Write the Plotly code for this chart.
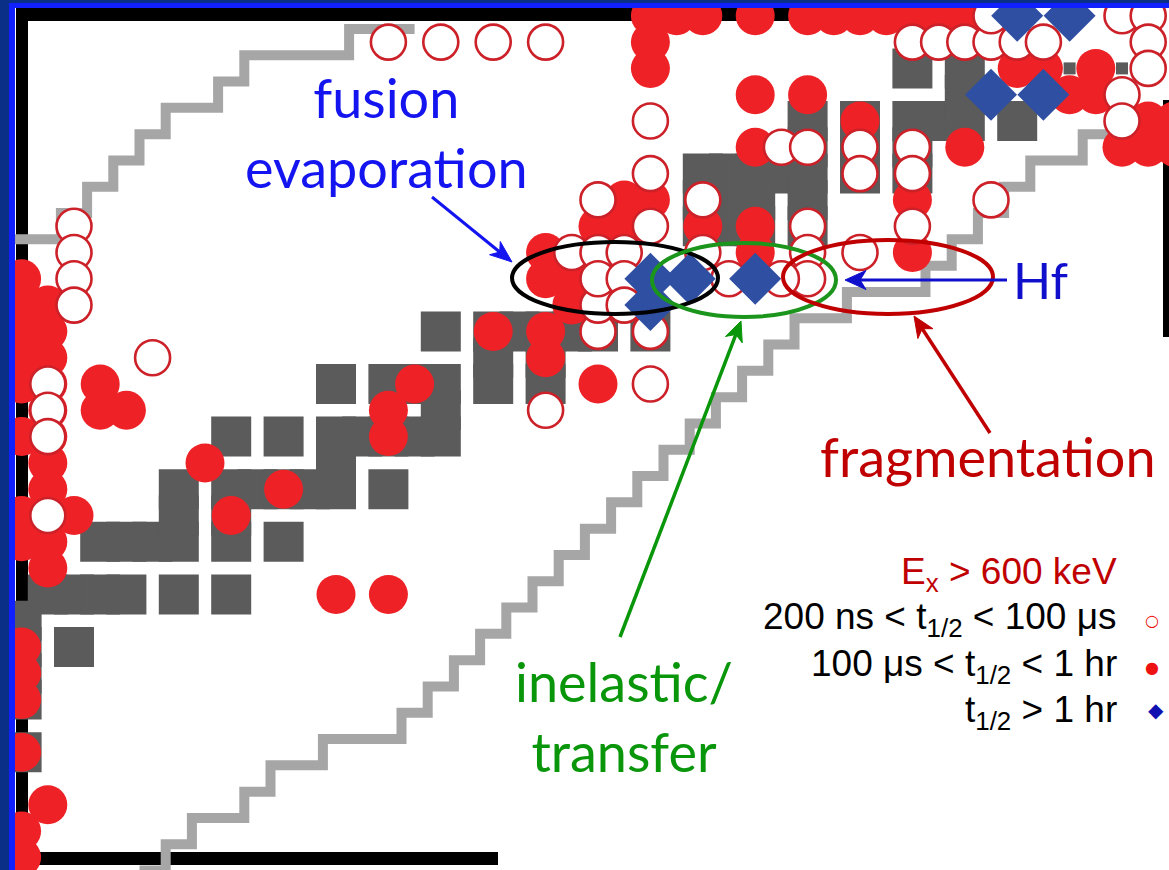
import math
import plotly.graph_objects as go

W, H = 1169, 870
# pixel geometry of the nuclide grid (one cell = one nucleus)
X0_PX, Y0_PX, DX, DY = 74.0, 647.0, 26.2, 26.3


def gx(p):
    return (p - X0_PX) / DX


def gy(p):
    return (Y0_PX - p) / DY


# ---------------- data (relative neutron / proton index) ----------------
stable_n = [0, -1, 0, 1, 2, 4, 6, 1, 2, 3, 4, 4, 4, 6, 6, 6, 8, 7, 8, 9, 10, 10, 10,
            6, 8, 11, 12, 10, 12, 12, -2, -2, -2, -2, -2,
            13, 14, 14, 13, 14, 14, 16, 17, 18, 19, 20, 16, 16, 18, 18, 22,
            24, 24, 24, 25, 26, 27, 28, 25, 26, 25, 26, 28, 28, 28, 28,
            30, 30, 30, 32, 32, 32, 33, 34, 32, 34, 34, 36]
stable_z = [0, 2, 2, 2, 2, 2, 2, 4, 4, 4, 4, 5, 6, 4, 5, 6, 4, 6, 6, 6, 6, 7, 8,
            8, 8, 8, 8, 10, 10, 6, 1, 0, -1, -2, -4,
            10, 10, 9, 8, 8, 12, 12, 12, 12, 12, 12, 11, 10, 11, 10, 12,
            18, 17, 16, 18, 18, 18, 18, 17, 17, 16, 16, 17, 16, 19, 20,
            18, 19, 20, 18, 19, 20, 20, 20, 22, 21, 22, 20]

primordial_n = [38, 40]
primordial_z = [22, 22]

# 200 ns < t1/2 < 100 us  (open circles)
short_n = [0, 0, 0, 0, -1, -1, -1, -1, 3, 12, 14, 16, 18,
           18, 22, 20, 20, 22,
           22, 22, 22, 20, 24, 24,
           19, 20, 21, 20, 21, 21,
           27, 28, 28, 28, 28, 27, 25,
           30, 30, 30, 32, 32, 32, 35,
           32, 33, 34, 35, 36, 37,
           35, 40, 41, 41, 41, 40, 40]
short_z = [16, 15, 14, 13, 10, 9, 8, 5, 11, 23, 23, 23, 23,
           9, 10, 12, 13, 12,
           20, 18, 16, 17, 17, 15,
           15, 15, 15, 14, 14, 13,
           19, 19, 16, 15, 14, 14, 14,
           19, 18, 15, 19, 18, 16, 17,
           23, 23, 23, 23, 23, 23,
           24, 24, 24, 23, 22, 21, 20]

# 100 us < t1/2 < 1 hr  (filled circles)
mid_n = [-2, -2, -2, -2, -2, -2, -2, -2, -2, -2, -2, -2, -2, -2,
         -1, -1, -1, -1, -1, -1, -1, -1, -1, -1, -1, -1,
         0, 1, 1, 2, 5, 8, 6, 10, 12, 12, 12, 13,
         16, 18, 18, 20,
         18, 18, 19, 19, 21, 21, 20, 22,
         22, 22, 22, 23, 24, 26, 28, 29, 30, 31, 32, 33, 34,
         26, 28, 26, 26, 26, 24,
         30, 32, 32, 34,
         37, 39, 38, 39, 36,
         41, 41, 42, 42, 40]
mid_z = [14, 13, 12, 11, 10, 8, 5, 4, 0, -1, -2, -4, -7, -8,
         13, 12, 11, 10, 9, 8, 7, 6, 5, 4, 3, -6,
         5, 10, 9, 9, 7, 6, 5, 2, 2, 9, 8, 10,
         12, 12, 11, 10,
         15, 14, 14, 13, 17, 16, 16, 17,
         24, 23, 22, 24, 24, 24, 24, 24, 24, 24, 24, 24, 24,
         21, 21, 19, 16, 15, 16,
         20, 17, 15, 19,
         22, 22, 21, 21, 22,
         20, 19, 19, 20, 19]

# t1/2 > 1 hr  (diamonds)
long_n = [22, 22, 23.5, 26, 35, 37, 36, 38]
long_z = [14, 13, 14, 14, 21, 21, 24, 24]

# drip lines (cell-boundary staircases)
upper_drip_n = [-3, -0.5, -0.5, 0.5, 0.5, 1.5, 1.5, 2.5, 2.5, 3.5, 3.5, 5.5, 5.5,
                6.5, 6.5, 10.5, 10.5, 13]
upper_drip_z = [15.5, 15.5, 16.5, 16.5, 17.5, 17.5, 18.5, 18.5, 19.5, 19.5, 20.5,
                20.5, 21.5, 21.5, 22.5, 22.5, 23.5, 23.5]
lower_drip_n = [2.5, 3.5, 3.5, 4.5, 4.5, 6.5, 6.5, 7.5, 7.5, 9.5, 9.5, 12.5, 12.5,
                13.5, 13.5, 14.5, 14.5, 15.5, 15.5, 16.5, 16.5, 17.5, 17.5, 18.5,
                18.5, 19.5, 19.5, 20.5, 20.5, 21.5, 21.5, 22.5, 22.5, 23.5, 23.5,
                24.5, 24.5, 25.5, 25.5, 26.5, 26.5, 27.5, 27.5, 29.5, 29.5, 32.5,
                32.5, 33.5, 33.5, 34.5, 34.5, 35.5, 35.5, 36.5, 36.5, 38.5, 38.5,
                41.5]
lower_drip_z = [-8.5, -8.5, -7.5, -7.5, -6.5, -6.5, -5.5, -5.5, -4.5, -4.5, -3.5,
                -3.5, -2.5, -2.5, -1.5, -1.5, -0.5, -0.5, 0.5, 0.5, 1.5, 1.5, 2.5,
                2.5, 3.5, 3.5, 4.5, 4.5, 5.5, 5.5, 6.5, 6.5, 7.5, 7.5, 8.5, 8.5,
                9.5, 9.5, 10.5, 10.5, 11.5, 11.5, 12.5, 12.5, 13.5, 13.5, 14.5,
                14.5, 15.5, 15.5, 16.5, 16.5, 17.5, 17.5, 18.5, 18.5, 19.5, 19.5]

legend_labels = ["E<sub>x</sub> > 600 keV",
                 "200 ns < t<sub>1/2</sub> < 100 \u03bcs",
                 "100 \u03bcs < t<sub>1/2</sub> < 1 hr",
                 "t<sub>1/2</sub> > 1 hr"]

# ---------------- figure ----------------
fig = go.Figure()

DRIP = "#a6a6a6"
for n, z in [(upper_drip_n, upper_drip_z), (lower_drip_n, lower_drip_z)]:
    fig.add_trace(go.Scatter(x=n, y=z, mode="lines",
                             line=dict(color=DRIP, width=10), hoverinfo="skip"))

fig.add_trace(go.Scatter(x=stable_n, y=stable_z, mode="markers",
                         marker=dict(symbol="square", size=40, color="#5b5b5b",
                                     line=dict(width=0)), hoverinfo="skip"))
fig.add_trace(go.Scatter(x=primordial_n, y=primordial_z, mode="markers",
                         marker=dict(symbol="square", size=12, color="#5b5b5b",
                                     line=dict(width=0)), hoverinfo="skip"))
fig.add_trace(go.Scatter(x=mid_n, y=mid_z, mode="markers",
                         marker=dict(symbol="circle", size=39, color="#ee2226",
                                     line=dict(width=0)), hoverinfo="skip"))
fig.add_trace(go.Scatter(x=short_n, y=short_z, mode="markers",
                         marker=dict(symbol="circle", size=35, color="white",
                                     line=dict(width=2.6, color="#cc2129")),
                         hoverinfo="skip"))
fig.add_trace(go.Scatter(x=long_n, y=long_z, mode="markers",
                         marker=dict(symbol="diamond", size=40, color="#2f4fa2",
                                     line=dict(width=0)), hoverinfo="skip"))

shapes = []
# black frame lines of the chart
shapes.append(dict(type="line", layer="below", x0=gx(22), x1=gx(22), y0=gy(8), y1=gy(865),
                   line=dict(color="black", width=12)))
shapes.append(dict(type="line", layer="below", x0=gx(16), x1=gx(880), y0=gy(14.5), y1=gy(14.5),
                   line=dict(color="black", width=13)))
shapes.append(dict(type="line", layer="below", x0=gx(16), x1=gx(498), y0=gy(858.5), y1=gy(858.5),
                   line=dict(color="black", width=13)))
shapes.append(dict(type="line", layer="below", x0=gx(1167), x1=gx(1167), y0=gy(100), y1=gy(337),
                   line=dict(color="black", width=8)))


def ellipse(cx, cy, rx, ry, color):
    return dict(type="circle", layer="above", x0=gx(cx - rx), x1=gx(cx + rx),
                y0=gy(cy + ry), y1=gy(cy - ry), line=dict(color=color, width=4))


shapes.append(ellipse(615, 278, 103, 36, "black"))
shapes.append(ellipse(744, 280, 92, 37, "#1b951b"))
shapes.append(ellipse(888, 277, 105, 37, "#c00000"))


def arrow(hx, hy, tx, ty, color, width, hl=21, hw=17):
    """Arrow drawn as a line plus a notched (stealth) head, given in pixels."""
    L = math.hypot(hx - tx, hy - ty)
    ux, uy = (hx - tx) / L, (hy - ty) / L
    vx, vy = -uy, ux
    bx, by = hx - hl * ux, hy - hl * uy
    nx, ny = hx - 0.72 * hl * ux, hy - 0.72 * hl * uy
    shapes.append(dict(type="line", layer="above", x0=gx(tx), y0=gy(ty),
                       x1=gx(nx + 2 * ux), y1=gy(ny + 2 * uy),
                       line=dict(color=color, width=width)))
    pts = [(hx, hy), (bx + hw / 2 * vx, by + hw / 2 * vy), (nx, ny),
           (bx - hw / 2 * vx, by - hw / 2 * vy)]
    path = "M " + " L ".join(f"{gx(px):.4f},{gy(py):.4f}" for px, py in pts) + " Z"
    shapes.append(dict(type="path", layer="above", path=path, fillcolor=color,
                       line=dict(color=color, width=1)))


arrow(512, 262, 432, 197, "#1414f0", 3, 22, 17)
arrow(845, 280, 1007, 280, "#1010cc", 3, 21, 19)
arrow(741, 321, 620, 637, "#0a960a", 3.5, 20, 18)
arrow(914, 316, 990, 433, "#c00000", 3.5, 21, 18)

# slide background frame
shapes.append(dict(type="rect", layer="above", xref="paper", yref="paper",
                   x0=0, x1=15 / W, y0=0, y1=1, line=dict(width=0), fillcolor="#1020ff"))
shapes.append(dict(type="rect", layer="above", xref="paper", yref="paper",
                   x0=0, x1=1, y0=1 - 8 / H, y1=1, line=dict(width=0), fillcolor="#1020ff"))
shapes.append(dict(type="rect", layer="above", xref="paper", yref="paper",
                   x0=0, x1=9 / W, y0=0, y1=1, line=dict(width=0), fillcolor="#0a2f86"))
shapes.append(dict(type="rect", layer="above", xref="paper", yref="paper",
                   x0=0, x1=1, y0=1 - 3 / H, y1=1, line=dict(width=0), fillcolor="#0a2f86"))

ann = []
TXT_FONT = "Lato"


def text(px, py, s, size, color, anchor="center", family=TXT_FONT):
    ann.append(dict(x=gx(px), y=gy(py), text=s, showarrow=False, xanchor=anchor,
                    yanchor="middle", font=dict(family=family, size=size, color=color)))


text(386, 132, "fusion<br>evaporation", 54, "#1414f0")
text(1011, 280, "Hf", 50, "#1010cc", anchor="left")
text(988, 456, "fragmentation", 54, "#c00000")
text(624, 716, "inelastic/<br>transfer", 54, "#0a960a")

LEG_FONT = "Liberation Sans"
leg_y = [574, 619, 666, 712]
leg_col = ["#c00000", "black", "black", "black"]
for lab, yy, cc in zip(legend_labels, leg_y, leg_col):
    text(1119, yy, lab, 37, cc, anchor="right", family=LEG_FONT)
text(1152, 620, "\u25cb", 16, "#ee1111", family="DejaVu Sans")
text(1152, 667, "\u25cf", 16, "#ee1111", family="DejaVu Sans")
text(1156, 710, "\u25c6", 20, "#1010b0", family="DejaVu Sans")

fig.update_layout(
    width=W, height=H, margin=dict(l=0, r=0, t=0, b=0),
    paper_bgcolor="white", plot_bgcolor="white", showlegend=False,
    xaxis=dict(range=[gx(0), gx(W)], visible=False, fixedrange=True),
    yaxis=dict(range=[gy(H), gy(0)], visible=False, fixedrange=True),
    shapes=shapes, annotations=ann,
)

fig.write_html("out.html", config={"displayModeBar": False},
               post_script="document.body.style.margin='0';document.body.style.overflow='hidden';")
